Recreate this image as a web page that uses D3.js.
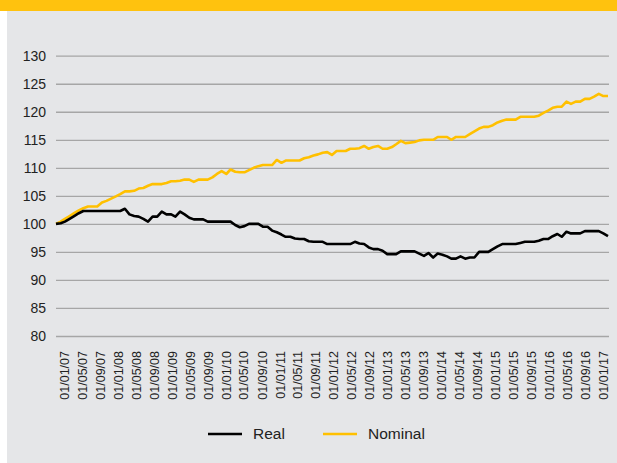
<!DOCTYPE html>
<html>
<head>
<meta charset="utf-8">
<script src="https://cdn.jsdelivr.net/npm/d3@7"></script>
<style>
  body { margin: 0; background: #fff; }
  svg { display: block; font-family: "Liberation Sans", Arial, sans-serif; }
  .grid line { stroke: #a6a6a6; stroke-width: 1.3; }
  .grid text { fill: #222; font-size: 14px; }
  .xaxis text { fill: #222; font-size: 12.5px; }
  .legend text { fill: #222; font-size: 15.5px; }
</style>
</head>
<body>
<svg id="chart" width="617" height="463"></svg>
<script>
// Series values, monthly from 01/01/07 to 01/01/17
const seriesNames = ['Real', 'Nominal'];
const seriesColors = ['#000000', '#ffc000'];

const realValues = [
    100.0, 100.1, 100.4, 100.9, 101.4, 101.9, 102.3, 102.3, 102.3, 102.3,
    102.3, 102.3, 102.3, 102.3, 102.3, 102.7, 101.7, 101.4, 101.3, 100.9,
    100.4, 101.3, 101.3, 102.2, 101.7, 101.7, 101.3, 102.2, 101.7, 101.1,
    100.8, 100.8, 100.8, 100.4, 100.4, 100.4, 100.4, 100.4, 100.4, 99.8,
    99.4, 99.6, 100.0, 100.0, 100.0, 99.5, 99.5, 98.8, 98.5, 98.1,
    97.7, 97.7, 97.4, 97.3, 97.3, 96.9, 96.8, 96.8, 96.8, 96.4,
    96.4, 96.4, 96.4, 96.4, 96.4, 96.8, 96.5, 96.4, 95.8, 95.5,
    95.5, 95.2, 94.6, 94.6, 94.6, 95.1, 95.1, 95.1, 95.1, 94.7,
    94.3, 94.8, 94.0, 94.7, 94.5, 94.2, 93.8, 93.8, 94.2, 93.8,
    94.0, 94.0, 95.0, 95.0, 95.0, 95.5, 96.0, 96.4, 96.4, 96.4,
    96.4, 96.6, 96.8, 96.8, 96.8, 97.0, 97.3, 97.3, 97.8, 98.2,
    97.7, 98.6, 98.3, 98.3, 98.3, 98.7, 98.7, 98.7, 98.7, 98.3,
    97.8
];

const nominalValues = [
    100.0, 100.4, 100.9, 101.4, 101.9, 102.4, 102.8, 103.1, 103.1, 103.1,
    103.8, 104.1, 104.5, 104.9, 105.3, 105.8, 105.8, 105.9, 106.3, 106.4,
    106.8, 107.1, 107.1, 107.1, 107.3, 107.6, 107.6, 107.7, 107.9, 107.9,
    107.5, 107.9, 107.9, 107.9, 108.3, 108.9, 109.4, 108.9, 109.7, 109.3,
    109.2, 109.2, 109.6, 110.0, 110.3, 110.5, 110.5, 110.5, 111.4, 110.9,
    111.3, 111.3, 111.3, 111.3, 111.7, 111.9, 112.2, 112.4, 112.7, 112.8,
    112.3, 113.0, 113.0, 113.0, 113.4, 113.4, 113.5, 113.9, 113.4, 113.7,
    113.9, 113.4, 113.4, 113.7, 114.2, 114.8, 114.4, 114.5, 114.6, 114.9,
    115.0, 115.0, 115.0, 115.5, 115.5, 115.5, 115.0, 115.5, 115.5, 115.5,
    116.0, 116.5, 117.0, 117.3, 117.3, 117.6, 118.1, 118.4, 118.6, 118.6,
    118.6, 119.1, 119.1, 119.1, 119.1, 119.3, 119.8, 120.2, 120.7, 120.9,
    120.9, 121.8, 121.4, 121.8, 121.8, 122.3, 122.3, 122.7, 123.2, 122.8,
    122.8
];

const yTicks = [80, 85, 90, 95, 100, 105, 110, 115, 120, 125, 130];
const startDate = new Date(2007, 0, 1);
const endDate = new Date(2017, 0, 1);
const months = d3.timeMonth.range(startDate, d3.timeMonth.offset(endDate, 1));
const xTickDates = d3.timeMonth.every(4).range(startDate, d3.timeMonth.offset(endDate, 1));

const svg = d3.select('#chart');

// Backdrop: yellow band on top, grey panel below
svg.append('rect').attr('x', 0).attr('y', 0).attr('width', 617).attr('height', 11).attr('fill', '#ffc20e');
svg.append('rect').attr('x', 7).attr('y', 11).attr('width', 610).attr('height', 452).attr('fill', '#e5e6e8');

const plot = { left: 56, right: 609, top: 55.7, bottom: 336 };

const x = d3.scaleTime().domain([startDate, endDate]).range([56, 608]);
// tick labels sit on a slightly narrower band than the lines
const xLabel = d3.scaleTime().domain([startDate, endDate]).range([64, 603]);
const y = d3.scaleLinear().domain([80, 130]).range([plot.bottom, plot.top]);

// Gridlines + y labels
const yAxis = svg.append('g')
    .attr('class', 'grid')
    .attr('transform', `translate(${plot.left},0)`)
    .call(d3.axisLeft(y).tickValues(yTicks).tickSize(-(plot.right - plot.left)).tickPadding(10));
yAxis.select('.domain').remove();

// Rotated date labels
const fmt = d3.timeFormat('%d/%m/%y');
const xAxis = svg.append('g')
    .attr('class', 'xaxis')
    .attr('transform', 'translate(0,341)')
    .call(d3.axisBottom(xLabel).tickValues(xTickDates).tickFormat(fmt).tickSize(0));
xAxis.select('.domain').remove();
xAxis.selectAll('text')
    .attr('transform', 'rotate(-90)')
    .attr('text-anchor', 'end')
    .attr('x', -10)
    .attr('y', 0)
    .attr('dy', '0.36em');

// Lines
const series = [
    { name: 'Nominal', values: nominalValues, color: seriesColors[1] },
    { name: 'Real', values: realValues, color: seriesColors[0] }
];
const line = d3.line()
    .x((d, i) => x(months[i]))
    .y(d => y(d));

svg.append('g').selectAll('path')
    .data(series)
    .join('path')
    .attr('fill', 'none')
    .attr('stroke', d => d.color)
    .attr('stroke-width', 2.6)
    .attr('stroke-linejoin', 'round')
    .attr('d', d => line(d.values));

// Legend
const legendX = [208, 323];
const legend = svg.append('g').attr('class', 'legend')
    .selectAll('g')
    .data(seriesNames)
    .join('g')
    .attr('transform', (d, i) => `translate(${legendX[i]},434)`);
legend.append('line')
    .attr('x1', 0).attr('x2', 34)
    .attr('stroke', (d, i) => seriesColors[i])
    .attr('stroke-width', 2.6);
legend.append('text')
    .attr('x', 45)
    .attr('dy', '0.35em')
    .text(d => d);
</script>
</body>
</html>
